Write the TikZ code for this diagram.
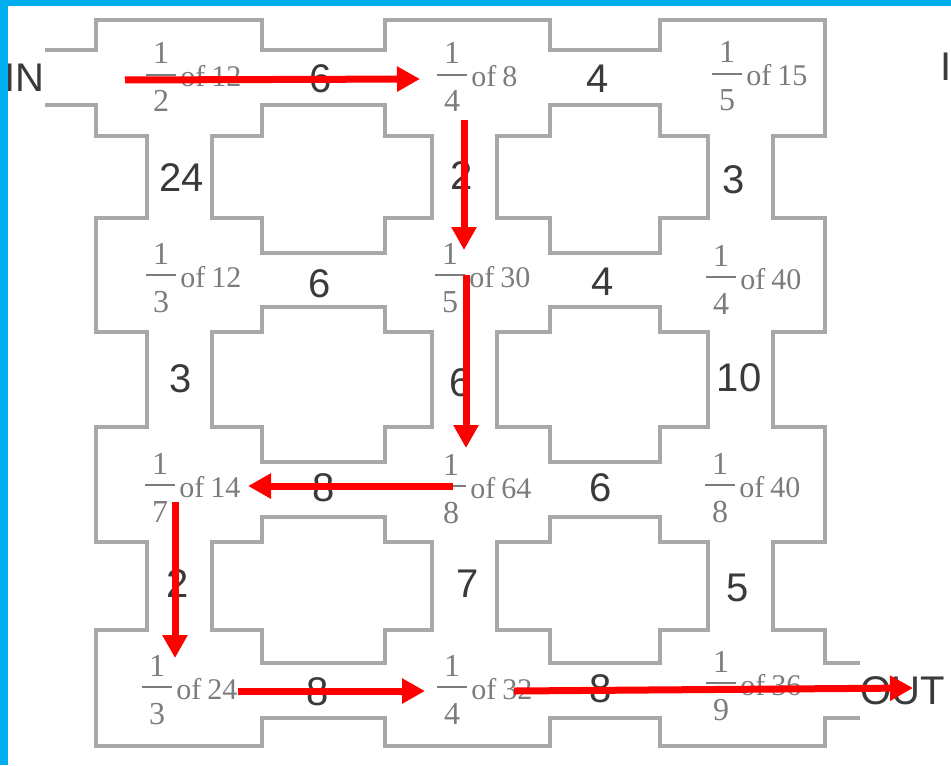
\documentclass[tikz,border=0pt]{standalone}
\usepackage{fontspec}
\setmainfont{Liberation Serif}
\newfontfamily\numfont{Liberation Sans}
\usetikzlibrary{arrows.meta}
\definecolor{wallc}{HTML}{A8A8A8}
\definecolor{numc}{HTML}{3A3A3A}
\definecolor{fracc}{HTML}{7C7C7C}
\definecolor{framec}{HTML}{00AEEF}
\newcommand\roomfrac[6]{%
  \node[frdigit] (#1n) at ({#2},{#3-11}) {#4};
  \node[frdigit] (#1d) at ({#2},{#3+37}) {#5};
  \draw[frbar] ({#2-15},{#3}) -- ({#2+15},{#3});
  \node[frtext] (#1t) at ({#2+19},{#3+12}) {of\hspace{0.2em}#6};
}
\def\Ls{{96,385,660}}
\def\Rs{{262,550,825}}
\def\VLs{{147,432,708}}
\def\VRs{{212,497,773}}
\def\Ts{{20,218,427,630}}
\def\Bs{{136,332,542,746}}
\def\HTs{{50,253,462,663}}
\def\HBs{{105,307,517,718}}
\begin{document}
\begin{tikzpicture}[x=0.5pt,y=-0.5pt,
  wall/.style={draw=wallc,line width=2pt,line cap=rect},
  corrnum/.style={font=\numfont\fontsize{20}{20}\selectfont,text=numc,inner sep=0pt},
  frdigit/.style={font=\fontsize{16}{16}\selectfont,text=fracc,inner sep=0pt,anchor=base},
  frtext/.style={font=\fontsize{15}{15}\selectfont,text=fracc,inner sep=0pt,anchor=base west},
  frbar/.style={draw=fracc,line width=1.2pt},
  route/.style={draw=red,line width=3.5pt,-{Triangle[length=11.5pt,width=12pt]}}]
\useasboundingbox (0,0) rectangle (951,765);
\fill[white] (0,0) rectangle (951,765);

% rooms
\foreach \c in {0,1,2}{\foreach \r in {0,1,2,3}{
  \pgfmathsetmacro\xL{\Ls[\c]}
  \pgfmathsetmacro\xR{\Rs[\c]}
  \pgfmathsetmacro\xVL{\VLs[\c]}
  \pgfmathsetmacro\xVR{\VRs[\c]}
  \pgfmathsetmacro\yT{\Ts[\r]}
  \pgfmathsetmacro\yB{\Bs[\r]}
  \pgfmathsetmacro\yHT{\HTs[\r]}
  \pgfmathsetmacro\yHB{\HBs[\r]}
  \ifnum\r=0 \draw[wall] (\xL,\yT) -- (\xR,\yT);
  \else \draw[wall] (\xL,\yT) -- (\xVL,\yT) (\xVR,\yT) -- (\xR,\yT); \fi
  \ifnum\r=3 \draw[wall] (\xL,\yB) -- (\xR,\yB);
  \else \draw[wall] (\xL,\yB) -- (\xVL,\yB) (\xVR,\yB) -- (\xR,\yB); \fi
  \ifnum\c=0
    \ifnum\r=0 \draw[wall] (\xL,\yT) -- (\xL,\yHT) (\xL,\yHB) -- (\xL,\yB);
    \else \draw[wall] (\xL,\yT) -- (\xL,\yB); \fi
  \else \draw[wall] (\xL,\yT) -- (\xL,\yHT) (\xL,\yHB) -- (\xL,\yB); \fi
  \ifnum\c=2
    \ifnum\r=3 \draw[wall] (\xR,\yT) -- (\xR,\yHT) (\xR,\yHB) -- (\xR,\yB);
    \else \draw[wall] (\xR,\yT) -- (\xR,\yB); \fi
  \else \draw[wall] (\xR,\yT) -- (\xR,\yHT) (\xR,\yHB) -- (\xR,\yB); \fi
}}
% horizontal corridors
\foreach \c in {0,1}{\foreach \r in {0,1,2,3}{
  \pgfmathsetmacro\xR{\Rs[\c]}
  \pgfmathsetmacro\xN{\Ls[\c+1]}
  \pgfmathsetmacro\yHT{\HTs[\r]}
  \pgfmathsetmacro\yHB{\HBs[\r]}
  \draw[wall] (\xR,\yHT) -- (\xN,\yHT) (\xR,\yHB) -- (\xN,\yHB);
}}
% vertical corridors
\foreach \c in {0,1,2}{\foreach \r in {0,1,2}{
  \pgfmathsetmacro\xVL{\VLs[\c]}
  \pgfmathsetmacro\xVR{\VRs[\c]}
  \pgfmathsetmacro\yB{\Bs[\r]}
  \pgfmathsetmacro\yN{\Ts[\r+1]}
  \draw[wall] (\xVL,\yB) -- (\xVL,\yN) (\xVR,\yB) -- (\xVR,\yN);
}}
% entrance and exit
\draw[wall] (47,50) -- (96,50) (47,105) -- (96,105);
\draw[wall] (825,663) -- (858,663) (825,718) -- (858,718);

% labels
\node[corrnum,anchor=east] (in) at (45,78) {IN};
\node[corrnum] (out) at (903,691) {OUT};
\node[corrnum] (in2) at (946,67) {I};

% room fractions
\roomfrac{r00}{161}{75}{1}{2}{12}
\roomfrac{r10}{452}{75}{1}{4}{8}
\roomfrac{r20}{727}{74}{1}{5}{15}
\roomfrac{r01}{161}{275}{1}{3}{12}
\roomfrac{r11}{450}{275}{1}{5}{30}
\roomfrac{r21}{721}{277}{1}{4}{40}
\roomfrac{r02}{160}{485}{1}{7}{14}
\roomfrac{r12}{451}{486}{1}{8}{64}
\roomfrac{r22}{720}{485}{1}{8}{40}
\roomfrac{r03}{157}{687}{1}{3}{24}
\roomfrac{r13}{452}{687}{1}{4}{32}
\roomfrac{r23}{721}{683}{1}{9}{36}

% corridor numbers
\node[corrnum] (h00) at (321,79) {6};
\node[corrnum] (h10) at (598,79) {4};
\node[corrnum] (v00) at (182,178) {24};
\node[corrnum] (v10) at (462,176) {2};
\node[corrnum] (v20) at (734,180) {3};
\node[corrnum] (h01) at (320,284) {6};
\node[corrnum] (h11) at (603,282) {4};
\node[corrnum] (v01) at (181,379) {3};
\node[corrnum] (v11) at (461,383) {6};
\node[corrnum] (v21) at (739,378) {10};
\node[corrnum] (h02) at (324,488) {8};
\node[corrnum] (h12) at (601,488) {6};
\node[corrnum] (v02) at (178,584) {2};
\node[corrnum] (v12) at (468,584) {7};
\node[corrnum] (v22) at (738,588) {5};
\node[corrnum] (h03) at (318,692) {8};
\node[corrnum] (h13) at (601,689) {8};

% route
\coordinate (a1s) at (125,80);  \coordinate (a1e) at (420,79);
\coordinate (a2s) at (464,120); \coordinate (a2e) at (464,250);
\coordinate (a3s) at (466,275); \coordinate (a3e) at (466,448);
\coordinate (a4s) at (453,486); \coordinate (a4e) at (248,486);
\coordinate (a5s) at (175,502); \coordinate (a5e) at (175,658);
\coordinate (a6s) at (238,691); \coordinate (a6e) at (425,691);
\coordinate (a7s) at (514,691); \coordinate (a7e) at (913,688);
\draw[route] (a1s) -- (a1e);
\draw[route] (a2s) -- (a2e);
\draw[route] (a3s) -- (a3e);
\draw[route] (a4s) -- (a4e);
\draw[route] (a5s) -- (a5e);
\draw[route] (a6s) -- (a6e);
\draw[route] (a7s) -- (a7e);

% frame strips
\fill[framec] (0,0) rectangle (951,6);
\fill[framec] (0,0) rectangle (8,765);
\end{tikzpicture}
\end{document}
